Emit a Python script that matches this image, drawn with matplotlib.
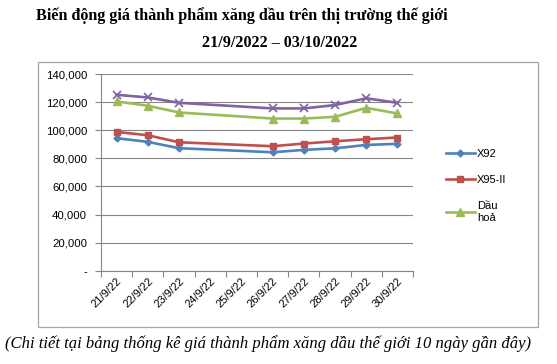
import matplotlib
matplotlib.use("Agg")
import matplotlib.pyplot as plt
import numpy as np
from matplotlib.patches import Rectangle
from matplotlib.ticker import FuncFormatter

categories = ["21/9/22", "22/9/22", "23/9/22", "24/9/22", "25/9/22",
              "26/9/22", "27/9/22", "28/9/22", "29/9/22", "30/9/22"]
# None = no data (weekend)
x92 = [94300, 91700, 87200, None, None, 84300, 86000, 87100, 89500, 90300]
x95 = [98800, 96400, 91400, None, None, 88600, 90500, 92100, 93600, 94800]
dau_hoa = [120500, 117400, 112600, None, None, 108300, 108300, 109500, 115900, 111900]
series4 = [125200, 123300, 119500, None, None, 115500, 115500, 117900, 122700, 119500]
yticks = [0, 20000, 40000, 60000, 80000, 100000, 120000, 140000]

fig = plt.figure(figsize=(5.57, 3.64), dpi=100)
fig.patch.set_facecolor("white")

# chart border
fig.add_artist(Rectangle((38/557, 1-327/364), 500/557, 265/364, transform=fig.transFigure,
                         fill=False, edgecolor="#a6a6a6", linewidth=0.9))

ax = fig.add_axes([101/557, 1-270.7/364, 312/557, (270.7-74)/364])

def pts(vals):
    xs = [i for i, v in enumerate(vals) if v is not None]
    ys = [v for v in vals if v is not None]
    return xs, ys

lw = 1.9
xs, ys = pts(x92)
ax.plot(xs, ys, color="#4F81BD", lw=lw, marker="D", ms=3.5, label="X92", zorder=5)
xs, ys = pts(x95)
ax.plot(xs, ys, color="#C0504D", lw=lw, marker="s", ms=5, label="X95-II", zorder=5)
xs, ys = pts(dau_hoa)
ax.plot(xs, ys, color="#9BBB59", lw=lw, marker="^", ms=5.5, label="Dầu\nhoả", zorder=5)
xs, ys = pts(series4)
ax.plot(xs, ys, color="#8064A2", lw=lw, marker="x", ms=6, mew=1.2, zorder=5)

ax.set_xlim(-0.5, len(categories) - 0.5)
ax.set_ylim(0, 140000)
ax.set_yticks(yticks)
ax.yaxis.set_major_formatter(FuncFormatter(lambda v, p: "-" if v == 0 else f"{int(v):,}"))
ax.set_xticks(np.arange(len(categories) + 1) - 0.5)
ax.set_xticklabels([])
ax.set_xticks(np.arange(len(categories)), minor=True)
ax.set_xticklabels(categories, minor=True, rotation=45, ha="right", rotation_mode="anchor",
                   fontsize=8, family="Liberation Sans")
ax.tick_params(axis="x", which="minor", length=0, pad=4)
ax.tick_params(axis="x", which="major", length=4, color="#868686", width=0.8)
ax.tick_params(axis="y", length=4, color="#868686", width=0.8, labelsize=8.2, pad=6)
for lab in ax.get_yticklabels():
    lab.set_family("Liberation Sans")

ax.grid(axis="y", color="#868686", linewidth=0.8)
ax.set_axisbelow(True)
for s in ["top", "right"]:
    ax.spines[s].set_visible(False)
ax.spines["left"].set_color("#868686")
ax.spines["bottom"].set_color("#868686")
ax.spines["left"].set_linewidth(0.8)
ax.spines["bottom"].set_linewidth(0.8)

leg = fig.legend(loc="upper left", bbox_to_anchor=(436/557, 1-139/364), frameon=False,
                 prop={"family": "Liberation Sans", "size": 8}, handlelength=2.6,
                 labelspacing=1.45, handletextpad=0.2)

fig.text(242/557, 1-16/364, "Biến động giá thành phẩm xăng dầu trên thị trường thế giới",
         ha="center", va="center", family="Liberation Serif", fontweight="bold", fontsize=11.6)
fig.text(280/557, 1-43/364, "21/9/2022 – 03/10/2022",
         ha="center", va="center", family="Liberation Serif", fontweight="bold", fontsize=11.6)
fig.text(268/557, 1-344/364,
         "(Chi tiết tại bảng thống kê giá thành phẩm xăng dầu thế giới 10 ngày gần đây)",
         ha="center", va="center", family="Liberation Serif", style="italic", fontsize=12)

fig.savefig("out.png", dpi=100, facecolor="white")
